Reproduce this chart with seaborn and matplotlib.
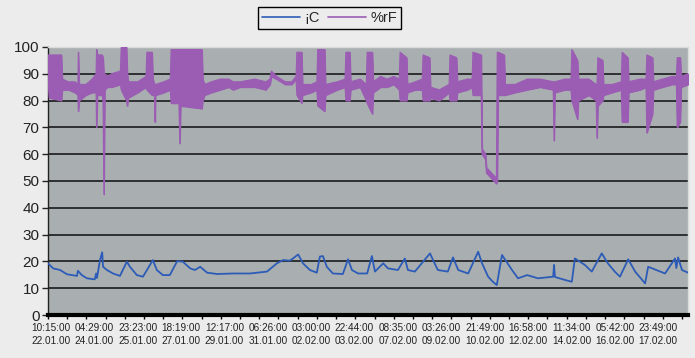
import numpy as np
import pandas as pd
import matplotlib.pyplot as plt
import seaborn as sns
from matplotlib.lines import Line2D
from matplotlib.ticker import MultipleLocator, FixedLocator

# sample index (category axis), one label every 100 samples
tick_labels = ['10:15:00\n22.01.00', '04:29:00\n24.01.00', '23:23:00\n25.01.00', '18:19:00\n27.01.00',
               '12:17:00\n29.01.00', '06:26:00\n31.01.00', '03:00:00\n02.02.00', '22:44:00\n03.02.00',
               '08:35:00\n07.02.00', '03:26:00\n09.02.00', '21:49:00\n10.02.00', '16:58:00\n12.02.00',
               '11:34:00\n14.02.00', '05:42:00\n16.02.00', '23:49:00\n17.02.00']

# temperature (¡C)
temp_x = [-7, 5, 21, 37, 60, 62, 71, 83, 101, 104, 106, 113, 118, 120, 129, 143, 159, 175, 182, 198,
          212, 235, 244, 258, 274, 291, 304, 321, 332, 344, 360, 383, 420, 459, 498, 521, 535, 551, 558, 570,
          581, 597, 613, 620, 627, 636, 650, 673, 685, 694, 708, 729, 740, 747, 766, 777, 800, 816, 823, 839,
          874, 881, 892, 915, 927, 939, 962, 985, 994, 1008, 1019, 1028, 1040, 1063, 1077, 1098, 1123, 1158, 1160, 1162,
          1185, 1201, 1208, 1231, 1247, 1270, 1284, 1300, 1312, 1331, 1347, 1370, 1377, 1416, 1439, 1442, 1446, 1455, 1469]
temp_y = [19.3, 17.4, 16.8, 15.2, 14.6, 16.5, 14.9, 13.7, 13.3, 15.5, 13.8, 20.5, 23.4, 18, 16.8, 15.5, 14.6, 19.9, 18, 14.9,
          14.3, 20.5, 16.8, 14.9, 14.9, 20.1, 19.9, 17.4, 16.8, 18, 15.8, 15.3, 15.5, 15.5, 16.2, 19.3, 20.5, 20.3, 21.1, 22.6,
          19.3, 16.8, 15.8, 21.8, 22, 18, 15.5, 15.3, 20.8, 16.8, 15.5, 15.5, 22, 16.2, 19.3, 17.4, 16.8, 21.1, 16.8, 16.2,
          23, 20.5, 16.8, 16.2, 21.5, 16.8, 15.5, 23.6, 19.3, 14.3, 12.4, 11.2, 22.4, 16.8, 13.7, 14.9, 13.7, 14.3, 18.7, 14.2,
          13.1, 12.4, 21.1, 18.7, 16.2, 23, 19.3, 16.2, 14.3, 20.8, 16.2, 11.8, 18, 15.5, 21.1, 17.5, 21.5, 16.8, 15.8]

# humidity (%rF): noisy signal, given as low / high envelope per sample
hum_x = [-7, -4, 24, 26, 40, 55, 62, 63, 65, 80, 95, 104, 105, 107, 118, 120, 122, 124, 130, 140,
         160, 162, 174, 176, 178, 200, 219, 221, 233, 235, 239, 240, 241, 260, 275, 277, 295, 297, 299, 348,
         350, 354, 370, 390, 410, 420, 436, 470, 495, 505, 508, 520, 540, 555, 565, 567, 578, 580, 600, 613,
         615, 631, 633, 660, 678, 680, 689, 691, 713, 727, 729, 741, 743, 760, 775, 790, 803, 805, 820, 822,
         840, 856, 858, 873, 875, 895, 918, 920, 935, 937, 960, 971, 973, 992, 994, 1002, 1004, 1027, 1029, 1031,
         1045, 1047, 1070, 1098, 1128, 1158, 1160, 1162, 1185, 1199, 1201, 1214, 1216, 1240, 1257, 1259, 1261, 1272, 1274, 1294,
         1315, 1317, 1330, 1332, 1358, 1372, 1374, 1387, 1389, 1410, 1432, 1442, 1444, 1451, 1453, 1469]
hum_lo = [88, 81, 80, 84, 84, 83, 82, 76, 80, 82, 83, 83, 70, 82, 82, 80, 45, 84, 85, 85,
          86, 84, 80, 78, 81, 83, 85, 84, 82, 82, 82, 72, 82, 83, 84, 79, 79, 64, 78, 77,
          80, 82, 83, 84, 85, 84, 85, 85, 84, 86, 89, 88, 86, 86, 88, 82, 79, 82, 83, 84,
          78, 76, 82, 84, 85, 80, 80, 84, 85, 80, 79, 75, 83, 85, 85, 86, 84, 80, 80, 83,
          84, 84, 80, 80, 81, 80, 83, 80, 80, 83, 84, 85, 82, 82, 60, 58, 53, 49, 50, 82,
          82, 82, 83, 84, 85, 84, 65, 83, 84, 84, 80, 73, 80, 82, 80, 66, 78, 80, 82, 83,
          84, 72, 72, 83, 84, 85, 68, 75, 84, 85, 86, 86, 70, 72, 85, 86]
hum_hi = [97, 97, 97, 88, 87, 87, 86, 98, 86, 86, 88, 90, 99, 97, 97, 96, 90, 90, 89, 90,
          91, 100, 100, 90, 87, 87, 89, 98, 98, 88, 86, 86, 86, 87, 88, 99, 99, 99, 99, 99,
          88, 86, 87, 88, 88, 87, 87, 88, 87, 88, 91, 89, 87, 87, 89, 98, 98, 86, 86, 87,
          99, 99, 86, 87, 88, 98, 98, 87, 88, 86, 98, 98, 87, 89, 88, 89, 88, 98, 96, 86,
          87, 88, 97, 96, 85, 84, 86, 97, 96, 87, 88, 88, 98, 97, 62, 60, 55, 51, 98, 98,
          97, 86, 86, 88, 88, 87, 87, 87, 88, 88, 99, 95, 88, 88, 86, 86, 96, 95, 86, 86,
          87, 98, 96, 87, 88, 88, 97, 96, 87, 88, 89, 89, 96, 96, 89, 90]

temp = pd.DataFrame({'t': temp_x, 'v': temp_y})
hum = pd.DataFrame({'t': hum_x, 'lo': hum_lo, 'hi': hum_hi})

sns.set_style('white')
plt.rcParams['font.family'] = ['Liberation Sans', 'DejaVu Sans']

blue = '#2d5cb8'
purple = '#9b5db4'

fig = plt.figure(figsize=(6.95, 3.58), dpi=100, facecolor='#ececec')
ax = fig.add_axes([0.069, 0.12, 0.921, 0.749])
ax.set_facecolor('#a9afb0')

ax.fill_between(hum['t'], hum['lo'], hum['hi'], color=purple, lw=0.8, edgecolor=purple, zorder=3)
sns.lineplot(x='t', y='v', data=temp, ax=ax, color=blue, linewidth=1.3, zorder=4)
sns.lineplot(x='t', y='hi', data=hum, ax=ax, color=purple, linewidth=0.8, zorder=3)
sns.lineplot(x='t', y='lo', data=hum, ax=ax, color=purple, linewidth=0.8, zorder=3)

ax.set_xlim(-7, 1469)
ax.set_ylim(0, 100)
ax.set_xlabel('')
ax.set_ylabel('')

# grid
for yv in range(10, 100, 10):
    ax.axhline(yv, color='#1a1a1a', lw=1.2, zorder=1)

ax.yaxis.set_major_locator(MultipleLocator(10))
ax.tick_params(axis='y', direction='out', length=4, width=1, colors='#222222', labelsize=11, pad=2, left=True)

ax.xaxis.set_major_locator(FixedLocator(np.arange(len(tick_labels)) * 100))
ax.set_xticklabels(tick_labels, fontsize=7.2, linespacing=1.3)
ax.xaxis.set_minor_locator(FixedLocator(np.arange(-7, 1469, 44.3)))
ax.tick_params(axis='x', which='major', length=0, pad=6, colors='#222222')
ax.tick_params(axis='x', which='minor', direction='out', length=3, width=1, color='black', bottom=True)

for s in ['top', 'right']:
    ax.spines[s].set_color('#d8dcdc')
    ax.spines[s].set_linewidth(1)
ax.spines['left'].set_color('#222222')
ax.spines['left'].set_linewidth(1)
ax.spines['bottom'].set_color('black')
ax.spines['bottom'].set_linewidth(3)

handles = [Line2D([], [], color=blue, lw=1.2), Line2D([], [], color=purple, lw=1.2)]
leg = ax.legend(handles, ['¡C', '%rF'], loc='center', bbox_to_anchor=(0.474, 0.95),
                bbox_transform=fig.transFigure, ncol=2, frameon=True, fancybox=False, edgecolor='black',
                facecolor='#ececec', fontsize=10.5, handlelength=2.6, columnspacing=0.6, handletextpad=0.3,
                borderpad=0.25, framealpha=1)
leg.get_frame().set_linewidth(1)

fig.savefig('out.png', dpi=100, facecolor=fig.get_facecolor())
